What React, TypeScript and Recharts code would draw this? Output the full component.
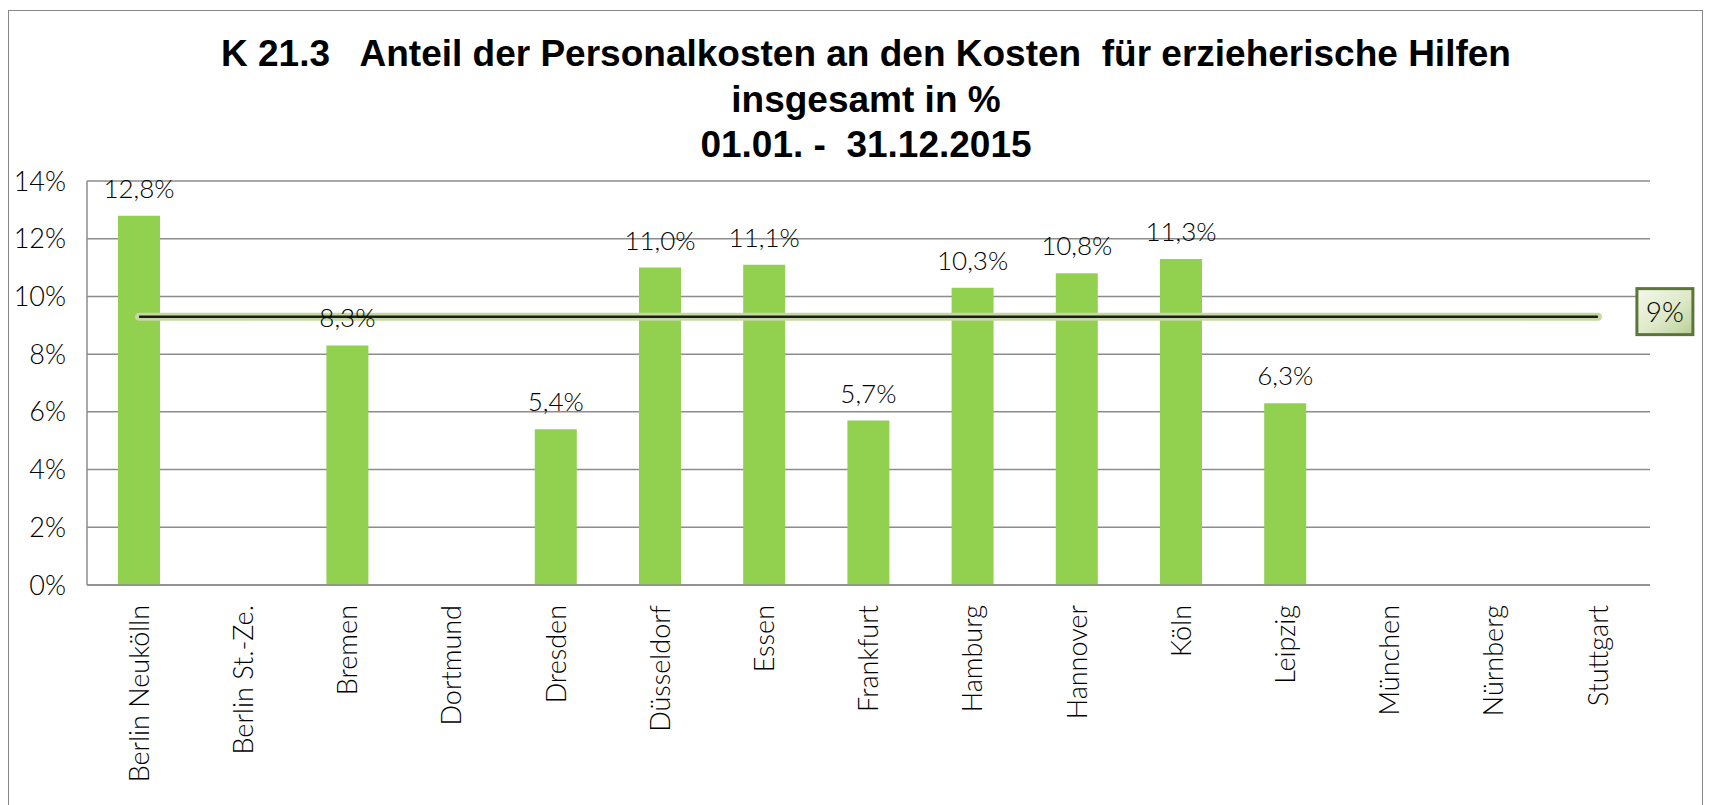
import React from 'react';
import { ComposedChart, Bar, Line, XAxis, YAxis, CartesianGrid, LabelList } from 'recharts';

const cities = [
  'Berlin Neukölln', 'Berlin St.-Ze.', 'Bremen', 'Dortmund', 'Dresden', 'Düsseldorf', 'Essen',
  'Frankfurt', 'Hamburg', 'Hannover', 'Köln', 'Leipzig', 'München', 'Nürnberg', 'Stuttgart',
];
// Anteil in %, null = kein Wert
const shares = [12.8, null, 8.3, null, 5.4, 11.0, 11.1, 5.7, 10.3, 10.8, 11.3, 6.3, null, null, null];
// Mittelwert-Linie (beschriftet mit 9%)
const average = [9.3, 9.3, 9.3, 9.3, 9.3, 9.3, 9.3, 9.3, 9.3, 9.3, 9.3, 9.3, 9.3, 9.3, 9.3];
const averageLabel = '9%';
const yTicks = [0, 2, 4, 6, 8, 10, 12, 14];
const titleLines = [
  'K 21.3   Anteil der Personalkosten an den Kosten  für erzieherische Hilfen',
  'insgesamt in %',
  '01.01. -  31.12.2015',
];

const data = cities.map((city, i) => ({ city, share: shares[i], avg: average[i] }));

const FONT = 'Lato, "DejaVu Sans", sans-serif';
const GRID = '#8c8c8c';

const CityTick = (props: any) => {
  const { x, y, payload } = props;
  return (
    <g transform={`translate(${x},${y})`}>
      <text transform="rotate(-90)" x={0} y={0} dy="0.36em" textAnchor="end"
        fontFamily={FONT} fontWeight={300} fontSize={27} fill="#000">
        {payload.value}
      </text>
    </g>
  );
};

const AvgBox = (props: any) => {
  const { x, y, index } = props;
  if (index !== cities.length - 1) return null;
  const bx = x + 39;
  const by = y - 28;
  return (
    <g>
      <defs>
        <linearGradient id="avgBoxFill" x1="0" y1="0" x2="1" y2="1">
          <stop offset="0%" stopColor="#f4f8ec" />
          <stop offset="55%" stopColor="#dde9c8" />
          <stop offset="100%" stopColor="#b9cf95" />
        </linearGradient>
      </defs>
      <rect x={bx} y={by} width={56} height={46} fill="url(#avgBoxFill)" stroke="#5d7638" strokeWidth={3} />
      <text x={bx + 28} y={by + 33} textAnchor="middle" fontFamily={FONT} fontWeight={300}
        fontSize={28} fill="#000">
        {averageLabel}
      </text>
    </g>
  );
};

const fmtShare = (v: any) => (v == null ? '' : `${Number(v).toFixed(1).replace('.', ',')}%`);

export default function App() {
  return (
    <div>
      <div style={{
        position: 'absolute', left: 8, top: 10, width: 1695, height: 795, boxSizing: 'border-box',
        borderTop: '1px solid #868686', borderLeft: '1px solid #868686', borderRight: '1px solid #868686',
      }} />
      <svg width={1710} height={180} style={{ position: 'absolute', left: 0, top: 0 }}>
        {titleLines.map((t, i) => (
          <text key={i} x={866} y={[66, 112, 157][i]} textAnchor="middle"
            fontFamily='"Liberation Sans", Arial, sans-serif' fontWeight="bold" fontSize={37}
            fill="#000" style={{ whiteSpace: 'pre' }}>
            {t}
          </text>
        ))}
      </svg>
      <div style={{ position: 'absolute', left: 0, top: 0 }}>
        <ComposedChart width={1710} height={805} data={data}
          margin={{ top: 181, right: 60, bottom: 0, left: 0 }}>
          <CartesianGrid vertical={false} stroke={GRID} strokeWidth={1.5} />
          <XAxis dataKey="city" interval={0} height={220} tickLine={false} tickMargin={14}
            axisLine={{ stroke: GRID, strokeWidth: 1.5 }} tick={<CityTick />} />
          <YAxis width={87} domain={[0, 14]} ticks={yTicks} tickLine={false} tickMargin={15}
            axisLine={{ stroke: GRID, strokeWidth: 1.5 }} tickFormatter={(v) => `${v}%`}
            tick={{ fontFamily: FONT, fontWeight: 300, fontSize: 27, fill: '#000' }} />
          <Bar dataKey="share" fill="#92d050" barSize={42} isAnimationActive={false}>
            <LabelList dataKey="share" position="top" offset={18} formatter={fmtShare}
              style={{ fontFamily: FONT, fontWeight: 300, fontSize: 26, fill: '#000' }} />
          </Bar>
          <Line dataKey="avg" type="linear" stroke="#c5d8a2" strokeWidth={8} strokeLinecap="round"
            dot={false} activeDot={false} isAnimationActive={false} />
          <Line dataKey="avg" type="linear" stroke="#1c1c1c" strokeWidth={2.5}
            dot={false} activeDot={false} isAnimationActive={false} label={<AvgBox />} />
        </ComposedChart>
      </div>
    </div>
  );
}
